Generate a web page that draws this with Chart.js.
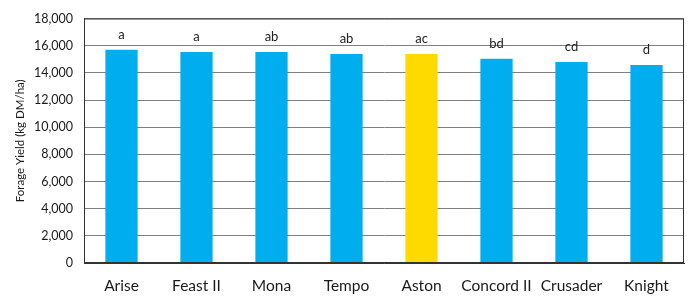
<!DOCTYPE html>
<html>
<head>
<meta charset="utf-8">
<script src="https://cdn.jsdelivr.net/npm/chart.js@4"></script>
<style>
  html, body { margin: 0; padding: 0; background: #fff; }
  #wrap { width: 692px; height: 298px; }
</style>
</head>
<body>
<div id="wrap"><canvas id="yieldChart" width="692" height="298"></canvas></div>
<script>
const cultivars = ["Arise", "Feast II", "Mona", "Tempo", "Aston", "Concord II", "Crusader", "Knight"];
const yields = [15700, 15530, 15530, 15380, 15380, 15040, 14800, 14580];
const groups = ["a", "a", "ab", "ab", "ac", "bd", "cd", "d"];
const yTicks = [0, 2000, 4000, 6000, 8000, 10000, 12000, 14000, 16000, 18000];

const blue = "#00AEEF";
const yellow = "#FFDA00";
const barColors = cultivars.map(c => (c === "Aston" ? yellow : blue));

// letters above each bar + a box round the plot
const extras = {
    id: "extras",
    afterDatasetsDraw(chart) {
        const { ctx, chartArea } = chart;
        const meta = chart.getDatasetMeta(0);
        ctx.save();
        ctx.font = "13px Lato";
        ctx.fillStyle = "#222";
        ctx.textAlign = "center";
        ctx.textBaseline = "middle";
        meta.data.forEach((bar, i) => {
            ctx.fillText(groups[i], bar.x, bar.y - 15);
        });
        ctx.strokeStyle = "#333";
        ctx.lineWidth = 1;
        ctx.strokeRect(chartArea.left + 0.5, chartArea.top + 0.5,
            chartArea.right - chartArea.left - 1, chartArea.bottom - chartArea.top - 1);
        ctx.restore();
    },
};

new Chart(document.getElementById("yieldChart"), {
    type: "bar",
    data: {
        labels: cultivars,
        datasets: [
            {
                data: yields,
                backgroundColor: barColors,
                barPercentage: 0.43,
                categoryPercentage: 1,
            },
        ],
    },
    options: {
        responsive: false,
        animation: false,
        layout: { padding: { top: 15, right: 8, left: 0, bottom: 0 } },
        scales: {
            x: {
                grid: { display: false, drawTicks: false },
                border: { color: "#333" },
                ticks: {
                    color: "#1a1a1a",
                    font: { family: "Lato", size: 15.5 },
                    padding: 14,
                    autoSkip: false,
                    maxRotation: 0,
                    minRotation: 0,
                },
                afterFit: s => { s.height = 35; },
            },
            y: {
                min: 0,
                max: 18000,
                afterBuildTicks: s => { s.ticks = yTicks.map(v => ({ value: v })); },
                grid: { color: "#808080", drawTicks: false },
                border: { color: "#333" },
                ticks: {
                    color: "#1a1a1a",
                    font: { family: "Lato", size: 12.5 },
                    padding: 11,
                    callback: v => v.toLocaleString("en-US"),
                },
                title: {
                    display: true,
                    text: "Forage Yield (kg DM/ha)",
                    color: "#1a1a1a",
                    font: { family: "Lato", size: 11.5 },
                    padding: { top: 13, bottom: 0 },
                },
                afterFit: s => { s.width = 84; },
            },
        },
        plugins: {
            legend: { display: false },
            tooltip: { enabled: false },
        },
    },
    plugins: [extras],
});
</script>
</body>
</html>
